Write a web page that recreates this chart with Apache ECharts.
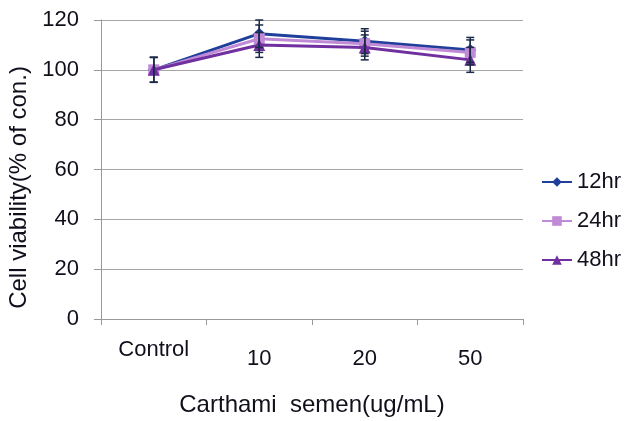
<!DOCTYPE html>
<html>
<head>
<meta charset="utf-8">
<script src="https://cdn.jsdelivr.net/npm/echarts@6/dist/echarts.min.js"></script>
<style>html,body{margin:0;padding:0;background:#fff}#c{width:627px;height:421px}</style>
</head>
<body>
<div id="c"></div>
<script>
const categories = ['Control', '10', '20', '50'];
const seriesNames = ['12hr', '24hr', '48hr'];
const v12 = [100, 114.5, 111.5, 108];
const v24 = [100, 112.5, 110.5, 107];
const v48 = [100, 110, 109, 104];
const e12 = [5, 5.5, 5, 5];
const e24 = [5, 5.5, 5, 5];
const e48 = [5, 5, 5, 5];
const yTicks = [0, 20, 40, 60, 80, 100, 120];

const colors = ['#1f3f9a', '#c08ad6', '#7030a0'];
const symbols = ['diamond', 'rect', 'triangle'];
const vals = [v12, v24, v48];
const errs = [e12, e24, e48];

const font = 'Liberation Sans, Arial, sans-serif';
const textColor = '#10101c';
const chart = echarts.init(document.getElementById('c'));

const lineSeries = seriesNames.map((n, i) => ({
  name: n,
  type: 'line',
  data: vals[i],
  color: colors[i],
  symbol: symbols[i],
  symbolSize: symbols[i] === 'rect' ? 11 : 12,
  lineStyle: { width: 3, color: colors[i] },
  itemStyle: { color: colors[i] },
  z: 3 + i
}));

const errSeries = seriesNames.map((n, i) => ({
  type: 'custom',
  name: n + ' err',
  z: 10,
  data: vals[i].map((v, k) => [k, v - errs[i][k], v + errs[i][k]]),
  renderItem: function (params, api) {
    const x = api.value(0);
    const lo = api.coord([x, api.value(1)]);
    const hi = api.coord([x, api.value(2)]);
    const w = 4;
    const st = { stroke: '#1c2a48', lineWidth: 1.5 };
    return {
      type: 'group',
      children: [
        { type: 'line', shape: { x1: hi[0], y1: hi[1], x2: lo[0], y2: lo[1] }, style: st },
        { type: 'line', shape: { x1: hi[0] - w, y1: hi[1], x2: hi[0] + w, y2: hi[1] }, style: st },
        { type: 'line', shape: { x1: lo[0] - w, y1: lo[1], x2: lo[0] + w, y2: lo[1] }, style: st }
      ]
    };
  },
  encode: { x: 0, y: [1, 2] },
  silent: true
}));

chart.setOption({
  animation: false,
  backgroundColor: '#fff',
  textStyle: { fontFamily: font },
  grid: { left: 101, right: 104, top: 20, bottom: 102, containLabel: false, outerBoundsMode: 'none' },
  legend: {
    data: seriesNames,
    orient: 'vertical',
    right: 1,
    top: 166,
    itemGap: 17,
    itemWidth: 30,
    itemHeight: 12,
    textStyle: { fontSize: 22, color: textColor, fontFamily: font }
  },
  xAxis: {
    type: 'category',
    data: categories,
    boundaryGap: true,
    name: 'Carthami  semen(ug/mL)',
    nameLocation: 'middle',
    nameGap: 74,
    nameTextStyle: { fontSize: 24, color: textColor, fontFamily: font },
    axisLine: { show: true, lineStyle: { color: '#999', width: 1 } },
    axisTick: { show: true, interval: 0, length: 6, alignWithLabel: false, lineStyle: { color: '#999' } },
    axisLabel: {
      interval: 0,
      margin: 20,
      fontSize: 22,
      color: textColor,
      formatter: function (v) { return v === 'Control' ? '{c|' + v + '}' : '{n|' + v + '}'; },
      rich: {
        c: { fontSize: 22, color: textColor, fontFamily: font },
        n: { fontSize: 22, color: textColor, fontFamily: font, padding: [9, 0, 0, 0] }
      }
    }
  },
  yAxis: {
    type: 'value',
    min: yTicks[0],
    max: yTicks[yTicks.length - 1],
    interval: 20,
    name: 'Cell viability(% of con.)',
    nameLocation: 'middle',
    nameGap: 70,
    nameTextStyle: { fontSize: 24, color: textColor, fontFamily: font, padding: [0, 36, 0, 0] },
    axisLine: { show: true, lineStyle: { color: '#999', width: 1 } },
    axisTick: { show: true, length: 7, lineStyle: { color: '#999' } },
    axisLabel: { fontSize: 22, color: textColor, margin: 22 },
    splitLine: { show: true, lineStyle: { color: '#a6a6a6', width: 1 } }
  },
  series: lineSeries.concat(errSeries)
});
</script>
</body>
</html>
